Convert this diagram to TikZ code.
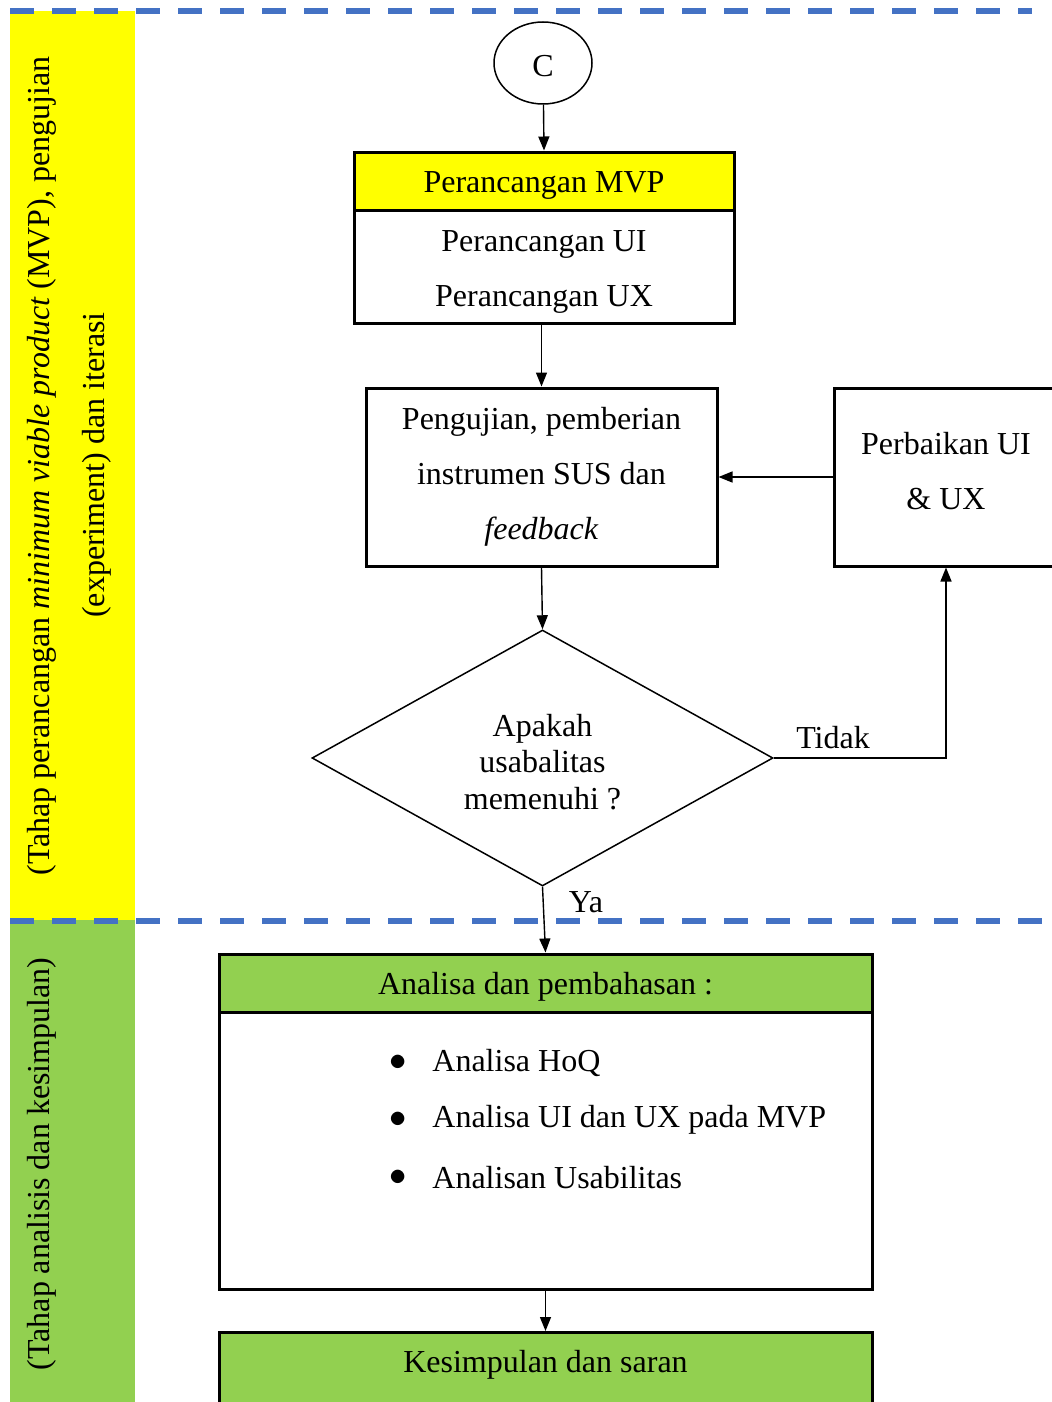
\documentclass[tikz,border=0pt]{standalone}
\usepackage{fontspec}
\setmainfont{Liberation Serif}
\usetikzlibrary{shapes.geometric,arrows.meta}
\definecolor{bandyellow}{HTML}{FFFF00}
\definecolor{bandgreen}{HTML}{92D050}
\definecolor{sepblue}{HTML}{4472C4}
\begin{document}
\begin{tikzpicture}[x=0.5pt,y=-0.5pt,
  every node/.style={font=\fontsize{16}{19}\selectfont},
  box/.style={draw=black,line width=1.5pt,rectangle,inner sep=0pt},
  arr/.style={-{Triangle[length=7pt,width=5.5pt]},line width=0.7pt,black},
  sep/.style={sepblue,line width=3pt,dash pattern=on 12pt off 9pt},
  lines/.style={align=center,font=\fontsize{16}{27.5}\selectfont}]
\useasboundingbox (0,0) rectangle (1052,1402);
\clip (0,0) rectangle (1052,1402);

% phase bands on the left
\fill[bandyellow] (10,11) rectangle (135,920);
\fill[bandgreen] (10,920) rectangle (135,1402);
\node[rotate=90] (phaseA1) at (42,466) {(Tahap perancangan \textit{minimum viable product} (MVP), pengujian};
\node[rotate=90] (phaseA2) at (97,465) {(experiment) dan iterasi};
\node[rotate=90] (phaseB) at (42,1164) {(Tahap analisis dan kesimpulan)};

% phase separators
\draw[sep] (10,11) -- (1032,11);
\draw[sep] (10,921) -- (1052,921);

% connector C
\node[draw,ellipse,line width=0.75pt,minimum width=49pt,minimum height=41pt,inner sep=0pt] (c) at (543,63) {};
\node (ctxt) at (543,66) {C};

% MVP design
\node[box,fill=bandyellow,minimum width=190pt,minimum height=29pt] (mvph) at (544,181) {};
\node (mvphtxt) at (544,185) {Perancangan MVP};
\node[box,fill=white,minimum width=190pt,minimum height=56.5pt] (mvpb) at (544,266.5) {};
\node[lines] (mvpbtxt) at (544,271.5) {Perancangan UI\\Perancangan UX};

% testing
\node[box,minimum width=175.5pt,minimum height=89pt,lines] (uji) at (541.5,477) {Pengujian, pemberian\\instrumen SUS dan\\\textit{feedback}};

% improvement
\node[box,minimum width=112pt,minimum height=89pt] (perb) at (946,477) {};
\node[lines] (perbtxt) at (946,471.5) {Perbaikan UI\\\& UX};

% decision
\node[draw,diamond,line width=0.75pt,minimum width=230.5pt,minimum height=128pt,inner sep=0pt] (dec) at (542.5,758) {};
\node[align=center,font=\fontsize{16}{18.25}\selectfont] (dectxt) at (542.5,762) {Apakah\\usabalitas\\memenuhi ?};

% analysis
\node[box,fill=bandgreen,minimum width=326.5pt,minimum height=29pt] (anh) at (545.5,983) {};
\node (anhtxt) at (545.5,987) {Analisa dan pembahasan :};
\node[box,fill=white,minimum width=326.5pt,minimum height=138.5pt] (anb) at (545.5,1150.5) {};
\node (d1) at (398,1063) {$\bullet$};
\node (d2) at (398,1120) {$\bullet$};
\node (d3) at (398,1178) {$\bullet$};
\node[anchor=west,inner sep=0pt] (i1) at (432,1063) {Analisa HoQ};
\node[anchor=west,inner sep=0pt] (i2) at (432,1120) {Analisa UI dan UX pada MVP};
\node[anchor=west,inner sep=0pt] (i3) at (432,1178) {Analisan Usabilitas};

% conclusion
\node[box,fill=bandgreen,minimum width=326.5pt,minimum height=50pt,anchor=north] (kes) at (545.5,1331) {};
\node (kestxt) at (545.5,1365) {Kesimpulan dan saran};

% connectors
\draw[arr] (c) -- (mvph.north);
\draw[arr] (uji.north |- mvpb.south) -- (uji.north);
\draw[arr] (perb.west |- uji.east) -- (uji.east);
\draw[arr] (uji.south) -- (dec.north);
\draw[arr] (dec.east) -- (perb.south |- dec.east) -- (perb.south);
\node (tidak) at (833,738) {Tidak};
\draw[arr] (dec.south) -- (anh.north);
\node (ya) at (586,902) {Ya};
\draw[arr] (anb.south) -- (kes.north);
\end{tikzpicture}
\end{document}
